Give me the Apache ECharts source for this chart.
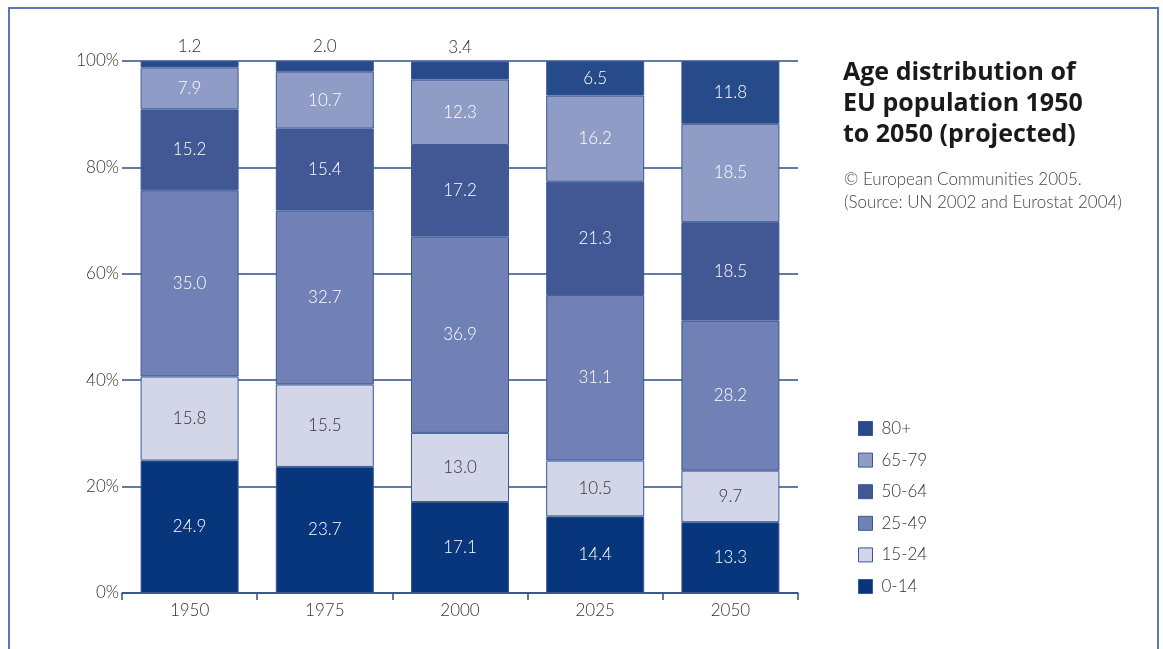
<!DOCTYPE html>
<html>
<head>
<meta charset="utf-8">
<script src="https://cdn.jsdelivr.net/npm/echarts@6/dist/echarts.min.js"></script>
<style>
html,body{margin:0;padding:0;background:#fff;width:1163px;height:649px;overflow:hidden;}
#frame{position:absolute;left:8px;top:7px;width:1151px;height:700px;border-top:2px solid #5878b8;border-left:2px solid #5878b8;border-right:2px solid #5878b8;box-sizing:border-box;}
#chart{position:absolute;left:0;top:0;width:1163px;height:649px;}
</style>
</head>
<body>
<div id="frame"></div>
<div id="chart"></div>
<script>
const years = ['1950', '1975', '2000', '2025', '2050'];
const groups = ['0-14', '15-24', '25-49', '50-64', '65-79', '80+'];
const age0_14 = [24.9, 23.7, 17.1, 14.4, 13.3];
const age15_24 = [15.8, 15.5, 13.0, 10.5, 9.7];
const age25_49 = [35.0, 32.7, 36.9, 31.1, 28.2];
const age50_64 = [15.2, 15.4, 17.2, 21.3, 18.5];
const age65_79 = [7.9, 10.7, 12.3, 16.2, 18.5];
const age80plus = [1.2, 2.0, 3.4, 6.5, 11.8];
const yTicks = [0, 20, 40, 60, 80, 100];

const colors = ['#08367c', '#d2d6e8', '#7180b5', '#425894', '#8f9cc6', '#274a8a'];
const values = [age0_14, age15_24, age25_49, age50_64, age65_79, age80plus];
const FONT = 'Lato, "Open Sans", sans-serif';

const series = groups.map((g, i) => {
  const isLight = i === 1;
  const data = values[i].map((v, j) => {
    const item = { value: v };
    if (i === 5 && v < 5) {
      item.label = { position: 'top', color: '#333', distance: 6 };
    }
    return item;
  });
  return {
    name: g,
    type: 'bar',
    stack: 'total',
    barWidth: 98,
    data: data,
    itemStyle: { color: colors[i], borderColor: '#3a5898', borderWidth: 1 },
    label: {
      show: true,
      position: 'inside',
      color: isLight ? '#333' : '#ffffff',
      fontFamily: FONT,
      fontSize: 17,
      fontWeight: 300,
      formatter: p => p.value.toFixed(1)
    },
    emphasis: { disabled: true }
  };
});

const chart = echarts.init(document.getElementById('chart'));
chart.setOption({
  animation: false,
  backgroundColor: 'transparent',
  grid: { left: 122, right: 365, top: 61, bottom: 56 },
  title: [{
    text: 'Age distribution of\nEU population 1950\nto 2050 (projected)',
    left: 838, top: 52,
    textStyle: { fontFamily: '"Open Sans", Lato, sans-serif', fontSize: 25, fontWeight: 'bold', color: '#1a1a1a', lineHeight: 31 }
  }, {
    text: '© European Communities 2005.\n(Source: UN 2002 and Eurostat 2004)',
    left: 839, top: 163,
    textStyle: { fontFamily: FONT, fontSize: 17, fontWeight: 300, color: '#444', lineHeight: 23 }
  }],
  legend: {
    data: groups.slice().reverse(),
    orient: 'vertical',
    left: 853, top: 415,
    itemWidth: 14, itemHeight: 14, itemGap: 14.6,
    icon: 'rect',
    textStyle: { fontFamily: FONT, fontSize: 17, fontWeight: 300, color: '#333', padding: [0, 0, 0, 4] },
    itemStyle: { borderColor: '#3a5898', borderWidth: 1 },
    selectedMode: false
  },
  xAxis: {
    type: 'category',
    data: years,
    axisLine: { show: true, lineStyle: { color: '#2d4f8f', width: 1.5 } },
    axisTick: { show: true, length: 7, lineStyle: { color: '#2d4f8f', width: 1.5 } },
    axisLabel: { fontFamily: FONT, fontSize: 17, fontWeight: 300, color: '#333', margin: 9 }
  },
  yAxis: {
    type: 'value',
    min: 0, max: 100, interval: 20,
    axisLine: { show: false },
    axisTick: { show: false },
    splitLine: { show: true, lineStyle: { color: '#2d4f8f', width: 1.5 } },
    axisLabel: {
      fontFamily: FONT, fontSize: 17, fontWeight: 300, color: '#333', margin: 3,
      formatter: v => yTicks.includes(v) ? v + '%' : ''
    }
  },
  series: series
});
</script>
</body>
</html>
